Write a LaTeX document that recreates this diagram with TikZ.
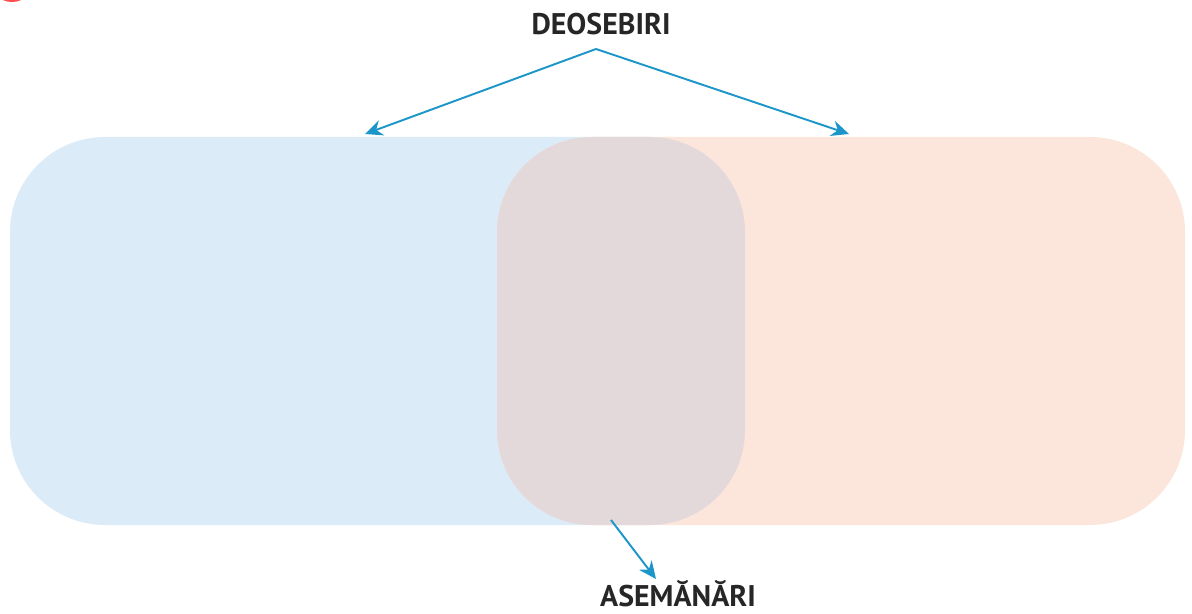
\documentclass[tikz,border=0pt]{standalone}
\usepackage{fontspec}
\setmainfont{PT Sans}
\usetikzlibrary{arrows.meta}

\definecolor{venblue}{RGB}{219,235,248}
\definecolor{venpeach}{RGB}{252,230,219}
\definecolor{venmix}{RGB}{228,217,218}
\definecolor{pointer}{RGB}{28,150,200}

\tikzset{
  label/.style={font=\bfseries\fontsize{17}{20}\selectfont, text=black!85, inner sep=0pt},
  pointer/.style={->, draw=pointer, line width=1.1pt},
  box/.style={rounded corners=1.9cm}
}

\begin{document}
\begin{tikzpicture}[x=0.02cm, y=-0.02cm, >={Stealth[length=10pt,width=9pt]}]
	
	\useasboundingbox (0,0) rectangle (1192,614);
	
	% cropped badge in the corner
	\begin{scope}
		\clip (0,0) rectangle (1192,614);
		\fill[red!70!white] (12,-20) circle (22);
	\end{scope}
	
	% the two sets
	\fill[venblue, box] (10,137) rectangle (745,525);
	\fill[venpeach, box] (497,137) rectangle (1185,525);
	\begin{scope}
		\clip[box] (10,137) rectangle (745,525);
		\fill[venmix, box] (497,137) rectangle (1185,525);
	\end{scope}
	
	\node[label] (deo) at (601,24) {DEOSEBIRI};
	\node[label] (ase) at (678,594) {ASEMĂNĂRI};
	
	\coordinate (split) at (596,49);
	\coordinate (left) at (365,134);
	\coordinate (right) at (849,134);
	\coordinate (common) at (611,520);
	\coordinate (under) at (656,579);
	
	\draw[pointer] (split) -- (left);
	\draw[pointer] (split) -- (right);
	\draw[pointer] (common) -- (under);
	
\end{tikzpicture}
\end{document}
